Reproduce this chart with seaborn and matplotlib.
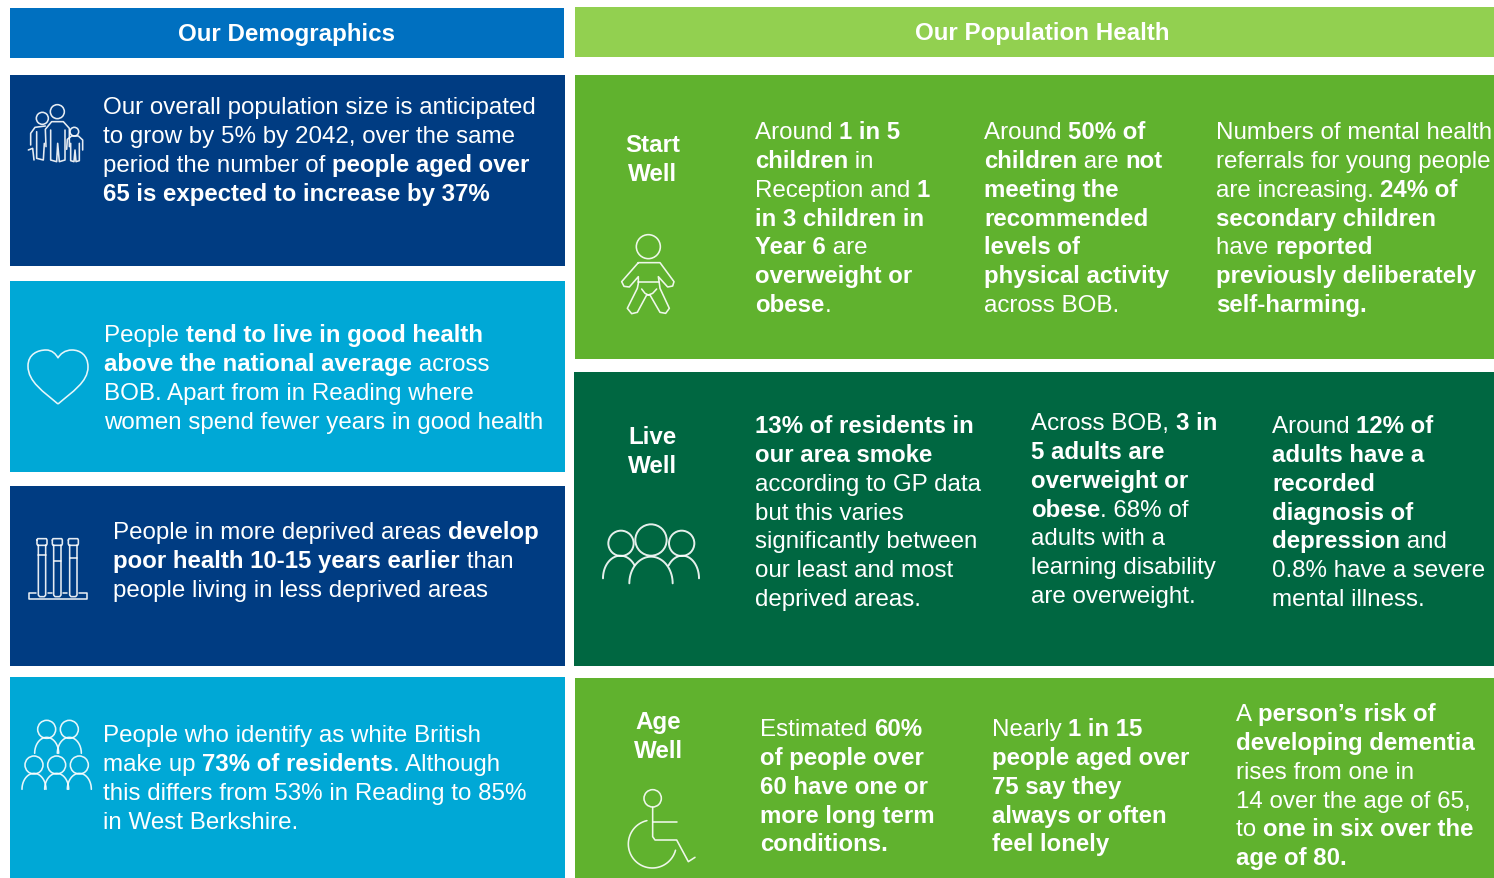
import numpy as np
import matplotlib
matplotlib.use("Agg")
import matplotlib.pyplot as plt
from matplotlib.patches import Rectangle, Circle, PathPatch
from matplotlib.path import Path
import seaborn as sns

sns.set_theme(style="white")
plt.rcParams['font.family'] = ['Liberation Sans', 'DejaVu Sans']

# ---------- content ----------
header_left = "Our Demographics"
header_right = "Our Population Health"

demo_size = ["Our overall population size is anticipated",
             "to grow by 5% by 2042, over the same",
             "period the number of **people aged over**",
             "**65 is expected to increase by 37%**"]
demo_good = ["People **tend to live in good health**",
             "**above the national average** across",
             "BOB. Apart from in Reading where",
             "women spend fewer years in good health"]
demo_depr = ["People in more deprived areas **develop**",
             "**poor health 10-15 years earlier** than",
             "people living in less deprived areas"]
demo_white = ["People who identify as white British",
              "make up **73% of residents**. Although",
              "this differs from 53% in Reading to 85%",
              "in West Berkshire."]

start_label = ["Start", "Well"]
start_a = ["Around **1 in 5**", "**children** in", "Reception and **1**", "**in 3 children in**",
           "**Year 6** are", "**overweight or**", "**obese**."]
start_b = ["Around **50% of**", "**children** are **not**", "**meeting the**", "**recommended**",
           "**levels of**", "**physical activity**", "across BOB."]
start_c = ["Numbers of mental health", "referrals for young people", "are increasing. **24% of**",
           "**secondary children**", "have **reported**", "**previously deliberately**",
           "**self-harming.**"]

live_label = ["Live", "Well"]
live_a = ["**13% of residents in**", "**our area smoke**", "according to GP data", "but this varies",
          "significantly between", "our least and most", "deprived areas."]
live_b = ["Across BOB, **3 in**", "**5 adults are**", "**overweight or**", "**obese**. 68% of",
          "adults with a", "learning disability", "are overweight."]
live_c = ["Around **12% of**", "**adults have a**", "**recorded**", "**diagnosis of**",
          "**depression** and", "0.8% have a severe", "mental illness."]

age_label = ["Age", "Well"]
age_a = ["Estimated **60%**", "**of people over**", "**60 have one or**", "**more long term**",
         "**conditions.**"]
age_b = ["Nearly **1 in 15**", "**people aged over**", "**75 say they**", "**always or often**",
         "**feel lonely**"]
age_c = ["A **person\u2019s risk of**", "**developing dementia**", "rises from one in",
         "14 over the age of 65,", "to **one in six over the**", "**age of 80.**"]

BLUE_HEAD, GREEN_HEAD = "#0070C0", "#92D050"
NAVY, SKY = "#003C82", "#00A8D6"
GREEN, FOREST = "#60B22E", "#006741"
FS = 17.35
FS_BOLD = 17.25
STEP = 28.8

# ---------- canvas in pixel units ----------
fig = plt.figure(figsize=(14.94, 8.79), dpi=100, facecolor="white")
ax = fig.add_axes([0, 0, 1, 1])
ax.set_xlim(0, 1494)
ax.set_ylim(878, -1)
ax.axis("off")
renderer = fig.canvas.get_renderer()


def card(x0, y0, x1, y1, color):
    ax.add_patch(Rectangle((x0, y0), x1 - x0, y1 - y0, facecolor=color, edgecolor="none"))


def text_width(s, weight, size):
    def w(q):
        t = ax.text(0, 0, q, fontsize=size, fontweight=weight)
        e = t.get_window_extent(renderer).width
        t.remove()
        return e
    return w("|" + s + "|") - w("||")


def rich_line(x, y, line):
    parts = line.split("**")
    for i, part in enumerate(parts):
        if not part:
            continue
        weight = "bold" if i % 2 else "normal"
        size = FS_BOLD if i % 2 else FS
        ax.text(x, y, part, color="white", fontsize=size, fontweight=weight,
                va="baseline", ha="left")
        x += text_width(part, weight, size)


def block(x, y, lines):
    for i, line in enumerate(lines):
        rich_line(x, y + 0.3 + i * STEP, line)


def label(cx, y, lines):
    for i, line in enumerate(lines):
        ax.text(cx + 0.5, y + i * STEP, line, color="white", fontsize=FS, fontweight="bold",
                ha="center", va="baseline")


LW = 1.15
ICON = dict(color="white", lw=LW, solid_capstyle="round", solid_joinstyle="round")


def poly(ox, oy, pts, alpha=0.9, **kw):
    p = np.asarray(pts, float)
    ax.plot(ox + p[:, 0] / 3, oy + p[:, 1] / 3, alpha=alpha, **{**ICON, **kw})


def ring(ox, oy, cx, cy, r, lw=LW):
    ax.add_patch(Circle((ox + cx / 3, oy + cy / 3), r / 3, fill=False, edgecolor="white", lw=lw, alpha=0.9))


def dome(ox, oy, cx, base, rx, ry, a0=180, a1=0, **kw):
    t = np.radians(np.linspace(a0, a1, 40))
    poly(ox, oy, np.c_[cx + rx * np.cos(t), base - ry * np.sin(t)], **kw)


# ---------- cards ----------
card(10, 8, 564, 58, BLUE_HEAD)
card(575, 7, 1494, 57, GREEN_HEAD)
card(10, 75, 565, 266, NAVY)
card(10, 281, 565, 472, SKY)
card(10, 486, 565, 666, NAVY)
card(10, 677, 565, 879, SKY)
card(575, 75, 1494, 359, GREEN)
card(574, 372, 1494, 666, FOREST)
card(575, 678, 1494, 879, GREEN)

ax.text(286, 33.5, header_left, color="white", fontsize=FS, fontweight="bold", ha="center", va="center")
ax.text(1042, 32.5, header_right, color="white", fontsize=FS, fontweight="bold", ha="center", va="center")

# ---------- text ----------
block(103, 113, demo_size)
block(104, 341, demo_good)
block(113, 538, demo_depr)
block(103, 741, demo_white)

label(652, 151, start_label)
block(755, 138, start_a)
block(984, 138, start_b)
block(1216, 138, start_c)

label(652, 443, live_label)
block(755, 432, live_a)
block(1031, 429, live_b)
block(1272, 432, live_c)

label(658, 728, age_label)
block(760, 735, age_a)
block(992, 735, age_b)
block(1236, 720, age_c)

# ---------- icons ----------
# family
ox, oy = 10, 90
ring(ox, oy, 142, 65, 21)
ring(ox, oy, 97, 85, 18)
ring(ox, oy, 193, 125, 13)
poly(ox, oy, [(108, 170), (106, 118), (125, 95), (160, 95), (178, 115), (178, 170)])
poly(ox, oy, [(122, 120), (122, 210), (140, 215), (143, 160), (148, 215), (165, 210), (165, 120)])
poly(ox, oy, [(106, 108), (75, 112), (62, 130), (62, 165)])
poly(ox, oy, [(55, 180), (68, 175), (72, 210)])
poly(ox, oy, [(80, 125), (80, 205), (100, 210), (103, 160)])
poly(ox, oy, [(170, 178), (172, 148), (185, 138), (205, 138), (218, 150), (218, 180)])
poly(ox, oy, [(182, 160), (182, 212), (192, 215), (195, 180), (198, 215), (208, 212), (208, 160)])

# heart
heart = Path([(58, 404), (44, 392), (28, 382), (28, 366), (28, 354), (38, 350), (46, 350), (52, 350), (56, 354),
              (58, 358), (60, 354), (65, 350), (72, 350), (80, 350), (88, 355), (88, 367), (88, 382), (72, 392),
              (58, 404)],
             [Path.MOVETO] + [Path.CURVE4] * 18)
ax.add_patch(PathPatch(heart, fill=False, edgecolor="white", lw=LW, alpha=0.9))

# tubes
ox, oy = 10, 520
for left, right, mark in [(85, 107, 105), (131, 153, 122), (179, 201, 115)]:
    poly(ox, oy, [(left, 75), (left, 225), (left + 4, 230), (right - 4, 230), (right, 225), (right, 75)])
    poly(ox, oy, [(left - 4, 60), (left - 2, 56), (right + 2, 56), (right + 4, 60), (right + 4, 72),
                  (right + 2, 76), (left - 2, 76), (left - 4, 72), (left - 4, 60)])
    poly(ox, oy, [(left, mark), (right, mark)])
poly(ox, oy, [(78, 218), (56, 218), (56, 238), (232, 238), (232, 218), (208, 218)])
poly(ox, oy, [(113, 218), (125, 218)])
poly(ox, oy, [(160, 218), (172, 218)])

# five people
ox, oy = 10, 710
for cx, cy, base in [(110, 58, 130), (178, 58, 130), (72, 165, 238), (140, 165, 238), (208, 165, 238)]:
    ring(ox, oy, cx, cy, 27)
    dome(ox, oy, cx, base, 36, 48)

# baby
ox, oy = 600, 225
ring(ox, oy, 145, 65, 36)
poly(ox, oy, [(115, 113), (180, 113), (222, 170), (218, 183), (203, 186), (175, 155), (178, 175), (180, 190),
              (208, 250), (197, 265), (180, 262), (150, 210), (140, 210), (112, 262), (95, 266), (82, 250),
              (112, 190), (115, 175), (115, 155), (88, 186), (72, 184), (65, 170), (115, 113)])
poly(ox, oy, [(113, 172), (178, 172)])
poly(ox, oy, [(125, 192), (135, 205), (145, 210), (158, 205), (170, 192)])

# three people
ox, oy = 595, 515
ring(ox, oy, 78, 85, 38, lw=1.4)
ring(ox, oy, 168, 75, 47, lw=1.4)
ring(ox, oy, 260, 85, 38, lw=1.4)
dome(ox, oy, 168, 205, 65, 80, lw=1.4)
dome(ox, oy, 76, 190, 52, 68, 180, 35, lw=1.4)
dome(ox, oy, 262, 190, 50, 68, 145, 0, lw=1.4)

# wheelchair
ox, oy = 615, 780
ring(ox, oy, 113, 55, 26)
poly(ox, oy, [(113, 82), (113, 170), (120, 180), (185, 180), (220, 245), (240, 232)])
poly(ox, oy, [(113, 125), (185, 125)])
t = np.radians(np.linspace(103, 345, 60))
poly(ox, oy, np.c_[112 + 72 * np.cos(t), 192 - 72 * np.sin(t)])

fig.savefig("out.png", dpi=100)
